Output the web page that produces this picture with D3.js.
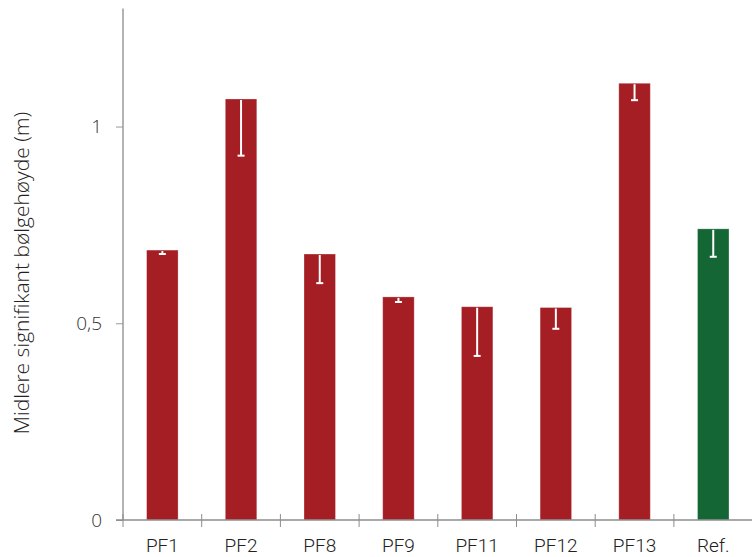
<!DOCTYPE html>
<html><head><meta charset="utf-8">
<script src="https://cdn.jsdelivr.net/npm/d3@7"></script>
<style>body{margin:0;background:#fff;} text{font-family:"Open Sans","Liberation Sans",sans-serif;}</style>
</head><body><svg id="c" width="752" height="557"></svg>
<script>
const categories = ["PF1","PF2","PF8","PF9","PF11","PF12","PF13","Ref."];
const values =     [0.686, 1.070, 0.676, 0.567, 0.542, 0.540, 1.110, 0.740];
const lowerErr =   [0.676, 0.926, 0.602, 0.554, 0.417, 0.486, 1.067, 0.669];
const barColors =  ["#a51e24","#a51e24","#a51e24","#a51e24","#a51e24","#a51e24","#a51e24","#156635"];
const yTicks = [0, 0.5, 1];
const yTickLabels = ["0","0,5","1"];
const yLabel = "Midlere signifikant bølgehøyde (m)";

const svg = d3.select("#c");
const x0 = 123, x1 = 752.6, yBottom = 520, yTop = 8.5;
const x = d3.scaleBand().domain(categories).range([x0, x1]).paddingInner(0.6).paddingOuter(0.3);
const bandX = d3.scaleBand().domain(categories).range([x0, x1]);
const y = d3.scaleLinear().domain([0, 1.3]).range([yBottom, yTop]);

// bars
svg.selectAll("rect.bar").data(categories).join("rect")
  .attr("class","bar")
  .attr("x", d => x(d)).attr("width", x.bandwidth())
  .attr("y", (d,i) => y(values[i])).attr("height", (d,i) => y(0) - y(values[i]))
  .attr("fill", (d,i) => barColors[i])
  .attr("stroke", "rgba(255,255,255,0.35)").attr("stroke-width", 0.8);

// error bars
const eg = svg.append("g").attr("stroke","#fff").attr("stroke-width",2);
categories.forEach((c,i) => {
  const cx = x(c) + x.bandwidth()/2;
  eg.append("line").attr("x1",cx).attr("x2",cx).attr("y1",y(values[i])+1).attr("y2",y(lowerErr[i]));
  eg.append("line").attr("x1",cx-3.5).attr("x2",cx+3.5).attr("y1",y(lowerErr[i])).attr("y2",y(lowerErr[i]));
});

// y axis
const yAxis = d3.axisLeft(y).tickValues(yTicks).tickSize(7).tickPadding(14)
  .tickFormat((d,i) => yTickLabels[i]);
const gy = svg.append("g").attr("transform",`translate(${x0},0)`).call(yAxis);
gy.select(".domain").attr("stroke","#b3b3b3").attr("stroke-width",2).attr("d",`M0,${yTop}V${yBottom}`);
gy.selectAll(".tick line").attr("stroke","#9a9a9a");
gy.selectAll(".tick text").attr("fill","#333").style("font-size","19px").style("font-weight","300")
  .style("font-family","'Open Sans',sans-serif");

// x axis
const xAxis = d3.axisBottom(bandX).tickSize(0).tickFormat(() => "");
const gx = svg.append("g").attr("transform",`translate(0,${yBottom})`).call(xAxis);
gx.select(".domain").attr("stroke","#8c8c8c").attr("stroke-width",1.5).attr("d",`M116,0H752`);
gx.selectAll(".tick").remove();
const bounds = categories.map(c => bandX(c));
gx.selectAll("line.bt").data(bounds).join("line").attr("class","bt")
  .attr("x1", d => d).attr("x2", d => d).attr("y1", -6).attr("y2", 7)
  .attr("stroke","#8c8c8c").attr("stroke-width",1);
gx.selectAll("text.cl").data(categories).join("text").attr("class","cl")
  .attr("x", d => bandX(d) + bandX.bandwidth()/2).attr("y", 32)
  .attr("text-anchor","middle").attr("fill","#222")
  .style("font-family","Roboto,sans-serif").style("font-size","19px").style("font-weight","300")
  .text(d => d);

// y label
svg.append("text").attr("transform",`translate(29,${(118+428)/2}) rotate(-90)`)
  .attr("text-anchor","middle").attr("fill","#222")
  .style("font-family","'Open Sans',sans-serif").style("font-size","21px").style("font-weight","300")
  .text(yLabel);
</script></body></html>
